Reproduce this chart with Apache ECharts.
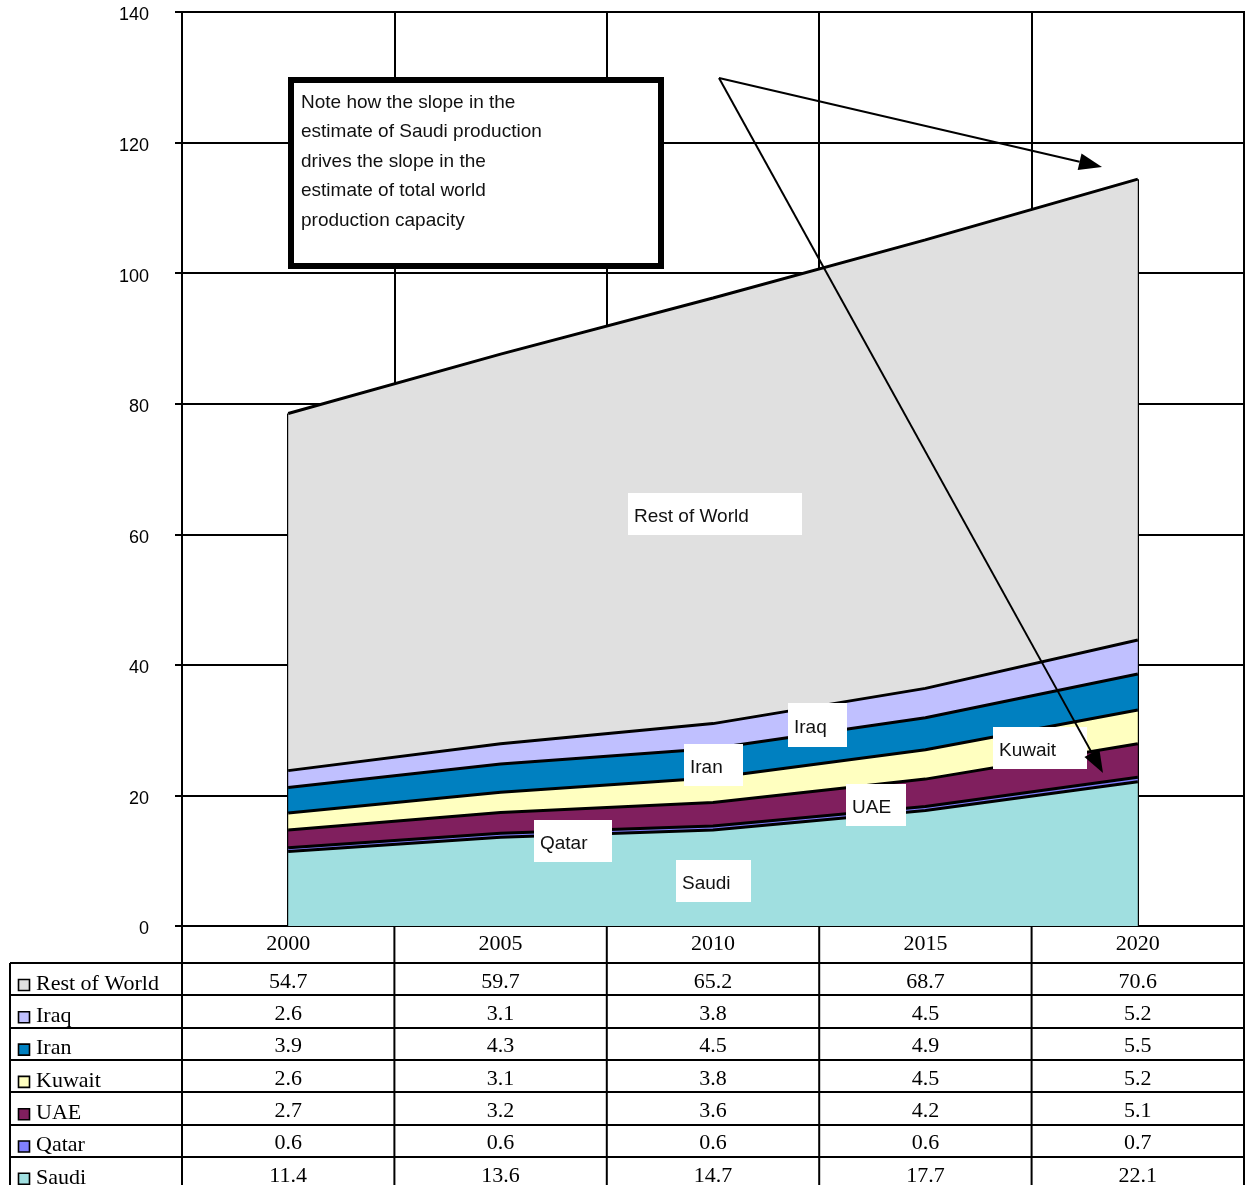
<!DOCTYPE html>
<html>
<head>
<meta charset="utf-8">
<title>World oil production capacity</title>
<script src="https://cdn.jsdelivr.net/npm/echarts@6/dist/echarts.min.js"></script>
<style>
  html, body { margin: 0; padding: 0; background: #fff; }
  #chart { width: 1246px; height: 1185px; }
</style>
</head>
<body>
<div id="chart"></div>
<script>
// Production capacity by source (million barrels per day)
const years = ['2000', '2005', '2010', '2015', '2020'];
const saudi = [11.4, 13.6, 14.7, 17.7, 22.1];
const qatar = [0.6, 0.6, 0.6, 0.6, 0.7];
const uae = [2.7, 3.2, 3.6, 4.2, 5.1];
const kuwait = [2.6, 3.1, 3.8, 4.5, 5.2];
const iran = [3.9, 4.3, 4.5, 4.9, 5.5];
const iraq = [2.6, 3.1, 3.8, 4.5, 5.2];
const restOfWorld = [54.7, 59.7, 65.2, 68.7, 70.6];
const yTicks = [0, 20, 40, 60, 80, 100, 120, 140];

// stacking order, bottom to top
const layers = [
  { name: 'Saudi', data: saudi, color: '#A0DFE0' },
  { name: 'Qatar', data: qatar, color: '#8080FF' },
  { name: 'UAE', data: uae, color: '#801F5E' },
  { name: 'Kuwait', data: kuwait, color: '#FFFFC0' },
  { name: 'Iran', data: iran, color: '#0080C0' },
  { name: 'Iraq', data: iraq, color: '#C0C0FF' },
  { name: 'Rest of World', data: restOfWorld, color: '#E0E0E0' }
];
// data table rows, top to bottom
const tableRows = layers.slice().reverse();

const totals = years.map((_, i) => layers.reduce((s, l) => s + l.data[i], 0));
const last = years.length - 1;

const SANS = 'Liberation Sans, Arial, sans-serif';
const SERIF = 'Liberation Serif, Times New Roman, serif';

const chart = echarts.init(document.getElementById('chart'), null, { renderer: 'canvas' });

const series = layers.map((l, idx) => ({
  name: l.name,
  type: 'line',
  stack: 'total',
  data: l.data,
  symbol: 'none',
  z: 20 - idx,
  lineStyle: { color: '#000', width: 3 },
  areaStyle: { color: l.color, opacity: 1 },
  emphasis: { disabled: true },
  silent: true
}));

// outline the left and right edges of the stacked block
series[0].markLine = {
  silent: true,
  symbol: 'none',
  label: { show: false },
  lineStyle: { color: '#000', width: 2, type: 'solid' },
  data: [
    [{ coord: [years[0], 0] }, { coord: [years[0], totals[0]] }],
    [{ coord: [years[last], 0] }, { coord: [years[last], totals[last]] }]
  ]
};

chart.setOption({
  animation: false,
  backgroundColor: '#fff',
  grid: {
    left: 182, right: 2, top: 12, bottom: 259,
    show: true, borderColor: '#000', borderWidth: 2, backgroundColor: 'transparent'
  },
  xAxis: {
    type: 'category',
    data: years,
    boundaryGap: true,
    axisLine: { show: true, lineStyle: { color: '#000', width: 2 } },
    axisTick: { show: false },
    splitLine: { show: true, lineStyle: { color: '#000', width: 2 } },
    axisLabel: {
      color: '#000', fontFamily: SERIF, fontSize: 22, margin: 7
    }
  },
  yAxis: {
    type: 'value',
    min: yTicks[0],
    max: yTicks[yTicks.length - 1],
    interval: 20,
    axisLine: { show: true, lineStyle: { color: '#000', width: 2 } },
    axisTick: { show: true, length: 7, lineStyle: { color: '#000', width: 2 } },
    splitLine: { show: true, lineStyle: { color: '#000', width: 2 } },
    axisLabel: {
      color: '#000', fontFamily: SANS, fontSize: 18, margin: 33,
      verticalAlign: 'top', lineHeight: 7
    }
  },
  series: series
});

// ---- annotations ----
function labelBox(text, x, y, w, h) {
  return [
    { type: 'rect', z: 100, shape: { x: x, y: y, width: w, height: h }, style: { fill: '#fff' } },
    {
      type: 'text', z: 101, x: x + 6, y: y + h / 2 + 3,
      style: { text: text, fill: '#111', font: '19px ' + SANS, textVerticalAlign: 'middle' }
    }
  ];
}

function arrow(x1, y1, x2, y2) {
  const ang = Math.atan2(y2 - y1, x2 - x1);
  const len = 23, half = 8.5;
  const bx = x2 - len * Math.cos(ang), by = y2 - len * Math.sin(ang);
  const px = -Math.sin(ang) * half, py = Math.cos(ang) * half;
  return [
    {
      type: 'line', z: 110,
      shape: { x1: x1, y1: y1, x2: bx, y2: by },
      style: { stroke: '#000', lineWidth: 2 }
    },
    {
      type: 'polygon', z: 110,
      shape: { points: [[x2, y2], [bx + px, by + py], [bx - px, by - py]] },
      style: { fill: '#000' }
    }
  ];
}

const graphics = [
  // note box
  {
    type: 'rect', z: 100,
    shape: { x: 291, y: 80, width: 370, height: 186 },
    style: { fill: '#fff', stroke: '#000', lineWidth: 6 }
  },
  {
    type: 'text', z: 101, x: 301, y: 88,
    style: {
      text: 'Note how the slope in the\nestimate of Saudi production\ndrives the slope in the\nestimate of total world\nproduction capacity',
      fill: '#111', font: '19px ' + SANS, lineHeight: 29.5
    }
  }
].concat(
  labelBox('Rest of World', 628, 493, 174, 42),
  labelBox('Iraq', 788, 703, 59, 44),
  labelBox('Iran', 684, 744, 59, 42),
  labelBox('Kuwait', 993, 727, 94, 42),
  labelBox('UAE', 846, 784, 60, 42),
  labelBox('Qatar', 534, 820, 78, 42),
  labelBox('Saudi', 676, 860, 75, 42),
  arrow(719, 78, 1102, 167),
  arrow(719, 78, 1103, 773)
);

// ---- data table below the plot ----
const centers = years.map(y => chart.convertToPixel({ xAxisIndex: 0 }, y));
const band = centers[1] - centers[0];
const bounds = [centers[0] - band / 2].concat(centers.map(c => c + band / 2));
const axisY = chart.convertToPixel({ yAxisIndex: 0 }, 0);
const headTop = 963;
const rowH = 32.3;
const tableLeft = 10;
const tableBottom = 1185;
const tableLine = { stroke: '#000', lineWidth: 2 };

// horizontal rules
for (let r = 0; r <= tableRows.length; r++) {
  const y = Math.round(headTop + r * rowH);
  graphics.push({
    type: 'line', z: 50,
    shape: { x1: tableLeft, y1: y, x2: bounds[bounds.length - 1], y2: y },
    style: tableLine
  });
}
// vertical rules
graphics.push({
  type: 'line', z: 50,
  shape: { x1: tableLeft, y1: headTop, x2: tableLeft, y2: tableBottom },
  style: tableLine
});
bounds.forEach(x => {
  graphics.push({
    type: 'line', z: 50,
    shape: { x1: x, y1: axisY, x2: x, y2: tableBottom },
    style: tableLine
  });
});
// row labels with legend keys, and values
tableRows.forEach((row, r) => {
  const top = headTop + r * rowH;
  graphics.push({
    type: 'rect', z: 51,
    shape: { x: 18.5, y: top + 16.5, width: 11, height: 11 },
    style: { fill: row.color, stroke: '#000', lineWidth: 1.6 }
  });
  graphics.push({
    type: 'text', z: 51, x: 36, y: top + 21,
    style: { text: row.name, fill: '#000', font: '22px ' + SERIF, textVerticalAlign: 'middle' }
  });
  row.data.forEach((v, i) => {
    graphics.push({
      type: 'text', z: 51, x: centers[i], y: top + 19,
      style: {
        text: v.toFixed(1), fill: '#000', font: '22px ' + SERIF,
        textAlign: 'center', textVerticalAlign: 'middle'
      }
    });
  });
});

chart.setOption({ graphic: graphics });
</script>
</body>
</html>
